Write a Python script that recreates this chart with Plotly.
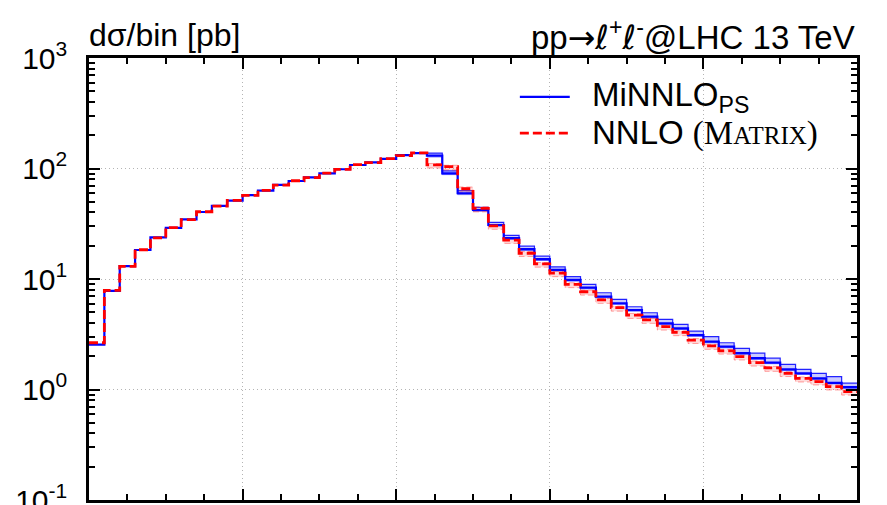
import plotly.graph_objects as go

# ---------------- data ----------------
bin_edges = [50, 52, 54, 56, 58, 60, 62, 64, 66, 68, 70, 72, 74, 76, 78, 80, 82, 84, 86, 88,
             90, 92, 94, 96, 98, 100, 102, 104, 106, 108, 110, 112, 114, 116, 118, 120,
             122, 124, 126, 128, 130, 132, 134, 136, 138, 140, 142, 144, 146, 148, 150]

minnlo = [2.55, 7.8, 13.1, 18.3, 23.8, 29.0, 34.7, 40.4, 45.8, 51.2, 57.5, 63.0, 71.0, 77.1,
          83.2, 90.5, 98.5, 107.6, 113.8, 122, 132, 137.5,
          130.6, 90.5, 59.7, 42.1, 30.8, 23.4, 18.6, 15.1, 12.1, 9.8, 8.34, 6.92, 6.03, 5.24,
          4.56, 3.97, 3.58, 3.11, 2.71, 2.44, 2.13, 1.92, 1.75, 1.52, 1.40, 1.26, 1.15, 1.05]

nnlo = [2.65, 7.9, 13.0, 18.4, 23.6, 29.2, 34.5, 40.6, 45.6, 51.4, 57.2, 63.3, 70.6, 77.5,
        82.8, 91.0, 98.0, 108.2, 113.2, 122.8, 131.0, 138.5,
        107.7, 103.8, 65.6, 43.5, 30.2, 22.5, 17.1, 13.7, 11.3, 8.95, 7.67, 6.46, 5.50, 4.72,
        4.26, 3.70, 3.29, 2.80, 2.48, 2.24, 1.98, 1.75, 1.57, 1.40, 1.26, 1.18, 1.06, 0.955]

# scale-uncertainty bands (bins 23..50, where they are visible)
band_start = 22
minnlo_hi = [138, 95, 63, 44.5, 32.6, 24.8, 19.8, 16.1, 12.9, 10.5, 8.95, 7.51, 6.55, 5.61,
             4.95, 4.32, 3.89, 3.38, 3.01, 2.65, 2.36, 2.13, 1.92, 1.69, 1.52, 1.40, 1.31, 1.14]
minnlo_lo = [127, 88, 58, 41, 30, 22.8, 18.1, 14.7, 11.8, 9.55, 8.13, 6.75, 5.88, 5.11,
             4.45, 3.87, 3.49, 3.03, 2.64, 2.38, 2.08, 1.87, 1.71, 1.48, 1.37, 1.23, 1.12, 1.02]
nnlo_hi = [111, 107, 68, 45, 31.2, 23.2, 17.7, 14.1, 11.7, 9.25, 7.92, 6.67, 5.68, 4.88,
           4.40, 3.82, 3.40, 2.89, 2.56, 2.31, 2.05, 1.81, 1.62, 1.45, 1.30, 1.22, 1.10, 0.99]
nnlo_lo = [101, 97, 61, 40.5, 28.2, 21.0, 16.0, 12.8, 10.5, 8.35, 7.15, 6.02, 5.12, 4.40,
           3.97, 3.45, 3.07, 2.61, 2.31, 2.09, 1.85, 1.63, 1.46, 1.31, 1.17, 1.10, 0.99, 0.89]

y_tickvals = [0.1, 1, 10, 100, 1000]
y_ticktext = ["10<sup>-1</sup>", "10<sup>0</sup>", "10<sup>1</sup>", "10<sup>2</sup>", "10<sup>3</sup>"]

BLUE = "#0000ff"
RED = "#ff0000"
FONT = "Liberation Sans, Arial, Helvetica, sans-serif"


def step(vals, edges):
    return list(edges), list(vals) + [vals[-1]]


fig = go.Figure()

band_edges = bin_edges[band_start:]

# MiNNLO band
x, y = step(minnlo_lo, band_edges)
fig.add_trace(go.Scatter(x=x, y=y, mode="lines", line=dict(shape="hv", color="rgba(0,0,255,0.45)", width=1),
                         showlegend=False, hoverinfo="skip"))
x, y = step(minnlo_hi, band_edges)
fig.add_trace(go.Scatter(x=x, y=y, mode="lines", line=dict(shape="hv", color="rgba(0,0,255,0.85)", width=1.2),
                         fill="tonexty", fillcolor="rgba(80,80,255,0.30)", showlegend=False, hoverinfo="skip"))

# NNLO band
x, y = step(nnlo_lo, band_edges)
fig.add_trace(go.Scatter(x=x, y=y, mode="lines", line=dict(shape="hv", color="rgba(255,0,0,0.35)", width=1, dash="6px,3px"),
                         showlegend=False, hoverinfo="skip"))
x, y = step(nnlo_hi, band_edges)
fig.add_trace(go.Scatter(x=x, y=y, mode="lines", line=dict(shape="hv", color="rgba(255,0,0,0.35)", width=1, dash="6px,3px"),
                         fill="tonexty", fillcolor="rgba(255,90,90,0.22)", showlegend=False, hoverinfo="skip"))

# central lines
x, y = step(minnlo, bin_edges)
fig.add_trace(go.Scatter(x=x, y=y, mode="lines", name="MiNNLO_PS",
                         line=dict(shape="hv", color=BLUE, width=2.2), showlegend=False))
x, y = step(nnlo, bin_edges)
fig.add_trace(go.Scatter(x=x, y=y, mode="lines", name="NNLO (MATRIX)",
                         line=dict(shape="hv", color=RED, width=2.8, dash="9px,4px"), showlegend=False))

axis_common = dict(
    showline=True, linecolor="black", linewidth=2.5, mirror="allticks",
    ticks="inside", tickcolor="black", tickwidth=2.2, ticklen=11,
    showgrid=True, gridcolor="#b4b4b4", griddash="1px,3px", gridwidth=1,
    zeroline=False, automargin=False,
)

fig.update_xaxes(
    range=[50, 150], tick0=50, dtick=20, showticklabels=False,
    minor=dict(ticks="inside", ticklen=6, tickwidth=2.2, tickcolor="black", dtick=5, tick0=50, showgrid=False),
    **axis_common,
)
fig.update_yaxes(
    type="log", range=[-1, 3], tickmode="array", tickvals=y_tickvals, ticktext=y_ticktext,
    tickfont=dict(family=FONT, size=30, color="black"), ticklabelstandoff=13,
    ticklabeloverflow="allow",
    minor=dict(ticks="inside", ticklen=6, tickwidth=2.2, tickcolor="black", dtick="D1", showgrid=False),
    **axis_common,
)

# legend drawn by hand
leg_y = [0.912, 0.830]
fig.add_shape(type="line", xref="paper", yref="paper", x0=0.561, x1=0.626, y0=leg_y[0], y1=leg_y[0],
              line=dict(color=BLUE, width=2.2))
fig.add_shape(type="line", xref="paper", yref="paper", x0=0.561, x1=0.626, y0=leg_y[1], y1=leg_y[1],
              line=dict(color=RED, width=2.8, dash="9px,4px"))
fig.add_annotation(xref="paper", yref="paper", x=0.652, y=leg_y[0], xanchor="left", yanchor="middle",
                   text="MiNNLO<sub>PS</sub>", showarrow=False, font=dict(family=FONT, size=33, color="black"))
fig.add_annotation(xref="paper", yref="paper", x=0.652, y=leg_y[1], xanchor="left", yanchor="middle",
                   text="NNLO <span style='font-family:Liberation Serif, Times New Roman, serif'>(M<span style='font-size:25px'>ATRIX</span>)</span>",
                   showarrow=False, font=dict(family=FONT, size=33, color="black"))

# titles
fig.add_annotation(xref="paper", yref="paper", x=-0.002, y=1.052, xanchor="left", yanchor="middle",
                   text="dσ/bin [pb]", showarrow=False, font=dict(family=FONT, size=32, color="black"))
fig.add_annotation(xref="paper", yref="paper", x=1.0, y=1.052, xanchor="right", yanchor="middle",
                   text="pp<span style='font-family:DejaVu Sans'>→ℓ</span><sup>+</sup><span style='font-family:DejaVu Sans'>ℓ</span><sup>-</sup>@LHC 13 TeV",
                   showarrow=False, font=dict(family=FONT, size=33, color="black"))

# the page body adds an 8 px offset, so the margins compensate for it
fig.update_layout(
    width=887, height=505,
    margin=dict(l=81, r=38, t=50, b=13),
    paper_bgcolor="white", plot_bgcolor="white",
    showlegend=False,
)

fig.write_html("out.html")
